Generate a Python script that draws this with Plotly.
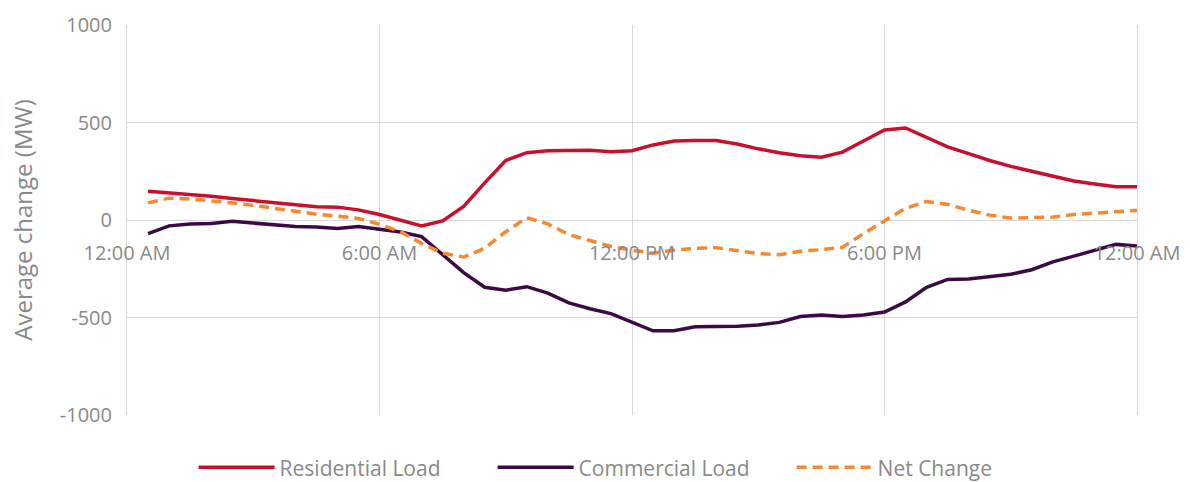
import plotly.graph_objects as go

hours = [0.5, 1.0, 1.5, 2.0, 2.5, 3.0, 3.5, 4.0, 4.5, 5.0, 5.5, 6.0,
         6.5, 7.0, 7.5, 8.0, 8.5, 9.0, 9.5, 10.0, 10.5, 11.0, 11.5, 12.0,
         12.5, 13.0, 13.5, 14.0, 14.5, 15.0, 15.5, 16.0, 16.5, 17.0, 17.5, 18.0,
         18.5, 19.0, 19.5, 20.0, 20.5, 21.0, 21.5, 22.0, 22.5, 23.0, 23.5, 24.0]

residential = [148, 140, 132, 122, 110, 100, 90, 78, 68, 66, 52, 28,
               0, -30, -5, 70, 190, 305, 345, 355, 357, 358, 350, 355,
               385, 405, 408, 408, 390, 365, 345, 330, 322, 348, 405, 462,
               472, 425, 375, 340, 305, 275, 250, 225, 200, 185, 170, 170]

commercial = [-70, -30, -20, -18, -7, -15, -25, -33, -36, -43, -33, -48,
              -62, -85, -180, -270, -345, -360, -342, -375, -425, -455, -480, -522,
              -568, -568, -548, -546, -545, -538, -525, -495, -487, -495, -487, -472,
              -420, -345, -305, -303, -292, -278, -255, -215, -185, -155, -125, -133]

net_change = [88, 112, 108, 100, 88, 75, 60, 45, 30, 20, 8, -22,
              -60, -120, -170, -190, -145, -60, 12, -20, -75, -105, -135, -155,
              -170, -155, -145, -142, -158, -172, -178, -160, -152, -140, -70, -5,
              60, 95, 80, 50, 25, 10, 12, 15, 28, 35, 45, 50]

tick_vals = [0, 6, 12, 18, 24]
tick_text = ["12:00 AM", "6:00 AM", "12:00 PM", "6:00 PM", "12:00 AM"]
y_ticks = [-1000, -500, 0, 500, 1000]
y_tick_text = ["-1000", "-500", "0", "500", "1000"]

grid = "#d9d9d9"
txt = "#898989"
font_family = "Open Sans, DejaVu Sans, sans-serif"

fig = go.Figure()
fig.add_trace(go.Scatter(x=hours, y=residential, mode="lines", name="Residential Load",
                         line=dict(color="#C8102E", width=3.5)))
fig.add_trace(go.Scatter(x=hours, y=commercial, mode="lines", name="Commercial Load",
                         line=dict(color="#3B0A45", width=3.5)))
fig.add_trace(go.Scatter(x=hours, y=net_change, mode="lines", name="Net Change",
                         line=dict(color="#F7882F", width=3.5, dash="10px,6px")))

fig.update_layout(
    width=1190, height=482,
    margin=dict(l=127, r=53, t=25, b=67, autoexpand=False),
    paper_bgcolor="white", plot_bgcolor="white",
    font=dict(family=font_family, color=txt, size=20),
    showlegend=True,
    legend=dict(orientation="h", x=0.51, xanchor="center", y=-0.135, yanchor="middle",
                font=dict(size=21, color=txt), itemwidth=76, entrywidth=208,
                traceorder="normal"),
    xaxis=dict(range=[0, 24], tickvals=tick_vals, ticktext=tick_text,
               showgrid=True, gridcolor=grid, gridwidth=1,
               showline=False, zeroline=False, ticks="",
               anchor="free", position=0.5, ticklabelstandoff=19,
               tickfont=dict(size=20, color=txt)),
    yaxis=dict(range=[-1000, 1000], tickvals=y_ticks, ticktext=y_tick_text,
               showgrid=True, gridcolor=grid, gridwidth=1,
               zeroline=True, zerolinecolor=grid, zerolinewidth=1,
               showline=True, linecolor=grid, linewidth=1, mirror=True,
               ticks="", ticklabelstandoff=10,
               tickfont=dict(size=20, color=txt),
               title=dict(text="Average change (MW)", font=dict(size=24, color=txt), standoff=20)),
)

fig.write_html("out.html", config={"displayModeBar": False},
               post_script="document.body.style.margin='0';document.body.style.padding='0';")
